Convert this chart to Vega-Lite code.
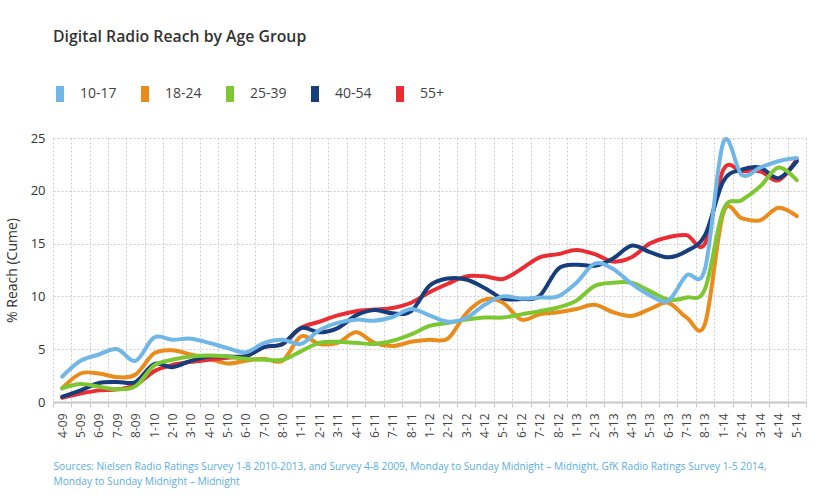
{
  "$schema": "https://vega.github.io/schema/vega-lite/v6.json",
  "width": 753,
  "height": 264,
  "autosize": {"type": "none"},
  "padding": {"left": 53, "top": 138, "right": 28, "bottom": 100},
  "background": "white",
  "title": {
    "text": "Digital Radio Reach by Age Group",
    "anchor": "start",
    "frame": "group",
    "font": "Open Sans",
    "fontSize": 15.8,
    "fontWeight": 600,
    "color": "#333333",
    "offset": 36
  },
  "data": {
    "values": [
      {"month": "4-09", "group": "18-24", "reach": 1.3}, {"month": "5-09", "group": "18-24", "reach": 2.7}, {"month": "6-09", "group": "18-24", "reach": 2.7}, {"month": "7-09", "group": "18-24", "reach": 2.35}, {"month": "8-09", "group": "18-24", "reach": 2.6}, {"month": "1-10", "group": "18-24", "reach": 4.6}, {"month": "2-10", "group": "18-24", "reach": 4.9}, {"month": "3-10", "group": "18-24", "reach": 4.5}, {"month": "4-10", "group": "18-24", "reach": 4.1}, {"month": "5-10", "group": "18-24", "reach": 3.65}, {"month": "6-10", "group": "18-24", "reach": 3.9}, {"month": "7-10", "group": "18-24", "reach": 4.1}, {"month": "8-10", "group": "18-24", "reach": 3.9}, {"month": "1-11", "group": "18-24", "reach": 6.2}, {"month": "2-11", "group": "18-24", "reach": 5.5}, {"month": "3-11", "group": "18-24", "reach": 5.6}, {"month": "4-11", "group": "18-24", "reach": 6.6}, {"month": "6-11", "group": "18-24", "reach": 5.6}, {"month": "7-11", "group": "18-24", "reach": 5.3}, {"month": "8-11", "group": "18-24", "reach": 5.7}, {"month": "1-12", "group": "18-24", "reach": 5.9}, {"month": "2-12", "group": "18-24", "reach": 6.0}, {"month": "3-12", "group": "18-24", "reach": 8.4}, {"month": "4-12", "group": "18-24", "reach": 9.7}, {"month": "5-12", "group": "18-24", "reach": 9.4}, {"month": "6-12", "group": "18-24", "reach": 7.8}, {"month": "7-12", "group": "18-24", "reach": 8.3}, {"month": "8-12", "group": "18-24", "reach": 8.5}, {"month": "1-13", "group": "18-24", "reach": 8.8}, {"month": "2-13", "group": "18-24", "reach": 9.2}, {"month": "3-13", "group": "18-24", "reach": 8.5}, {"month": "4-13", "group": "18-24", "reach": 8.15}, {"month": "5-13", "group": "18-24", "reach": 8.8}, {"month": "6-13", "group": "18-24", "reach": 9.4}, {"month": "7-13", "group": "18-24", "reach": 8.0}, {"month": "8-13", "group": "18-24", "reach": 7.4}, {"month": "1-14", "group": "18-24", "reach": 17.9}, {"month": "2-14", "group": "18-24", "reach": 17.4}, {"month": "3-14", "group": "18-24", "reach": 17.2}, {"month": "4-14", "group": "18-24", "reach": 18.4}, {"month": "5-14", "group": "18-24", "reach": 17.6},
      {"month": "4-09", "group": "55+", "reach": 0.4}, {"month": "5-09", "group": "55+", "reach": 0.8}, {"month": "6-09", "group": "55+", "reach": 1.1}, {"month": "7-09", "group": "55+", "reach": 1.2}, {"month": "8-09", "group": "55+", "reach": 1.6}, {"month": "1-10", "group": "55+", "reach": 2.9}, {"month": "2-10", "group": "55+", "reach": 3.5}, {"month": "3-10", "group": "55+", "reach": 3.8}, {"month": "4-10", "group": "55+", "reach": 4.0}, {"month": "5-10", "group": "55+", "reach": 4.2}, {"month": "6-10", "group": "55+", "reach": 4.35}, {"month": "7-10", "group": "55+", "reach": 5.2}, {"month": "8-10", "group": "55+", "reach": 5.5}, {"month": "1-11", "group": "55+", "reach": 7.0}, {"month": "2-11", "group": "55+", "reach": 7.6}, {"month": "3-11", "group": "55+", "reach": 8.2}, {"month": "4-11", "group": "55+", "reach": 8.6}, {"month": "6-11", "group": "55+", "reach": 8.75}, {"month": "7-11", "group": "55+", "reach": 8.9}, {"month": "8-11", "group": "55+", "reach": 9.4}, {"month": "1-12", "group": "55+", "reach": 10.4}, {"month": "2-12", "group": "55+", "reach": 11.2}, {"month": "3-12", "group": "55+", "reach": 11.9}, {"month": "4-12", "group": "55+", "reach": 11.9}, {"month": "5-12", "group": "55+", "reach": 11.65}, {"month": "6-12", "group": "55+", "reach": 12.6}, {"month": "7-12", "group": "55+", "reach": 13.7}, {"month": "8-12", "group": "55+", "reach": 14.0}, {"month": "1-13", "group": "55+", "reach": 14.4}, {"month": "2-13", "group": "55+", "reach": 14.0}, {"month": "3-13", "group": "55+", "reach": 13.3}, {"month": "4-13", "group": "55+", "reach": 13.7}, {"month": "5-13", "group": "55+", "reach": 15.0}, {"month": "6-13", "group": "55+", "reach": 15.6}, {"month": "7-13", "group": "55+", "reach": 15.8}, {"month": "8-13", "group": "55+", "reach": 15.0}, {"month": "1-14", "group": "55+", "reach": 22.0}, {"month": "2-14", "group": "55+", "reach": 21.85}, {"month": "3-14", "group": "55+", "reach": 21.85}, {"month": "4-14", "group": "55+", "reach": 21.0}, {"month": "5-14", "group": "55+", "reach": 23.0},
      {"month": "4-09", "group": "40-54", "reach": 0.5}, {"month": "5-09", "group": "40-54", "reach": 1.1}, {"month": "6-09", "group": "40-54", "reach": 1.8}, {"month": "7-09", "group": "40-54", "reach": 1.9}, {"month": "8-09", "group": "40-54", "reach": 1.9}, {"month": "1-10", "group": "40-54", "reach": 3.6}, {"month": "2-10", "group": "40-54", "reach": 3.3}, {"month": "3-10", "group": "40-54", "reach": 3.9}, {"month": "4-10", "group": "40-54", "reach": 4.3}, {"month": "5-10", "group": "40-54", "reach": 4.3}, {"month": "6-10", "group": "40-54", "reach": 4.35}, {"month": "7-10", "group": "40-54", "reach": 5.2}, {"month": "8-10", "group": "40-54", "reach": 5.5}, {"month": "1-11", "group": "40-54", "reach": 7.0}, {"month": "2-11", "group": "40-54", "reach": 6.6}, {"month": "3-11", "group": "40-54", "reach": 7.0}, {"month": "4-11", "group": "40-54", "reach": 8.2}, {"month": "6-11", "group": "40-54", "reach": 8.7}, {"month": "7-11", "group": "40-54", "reach": 8.4}, {"month": "8-11", "group": "40-54", "reach": 8.6}, {"month": "1-12", "group": "40-54", "reach": 11.0}, {"month": "2-12", "group": "40-54", "reach": 11.7}, {"month": "3-12", "group": "40-54", "reach": 11.6}, {"month": "4-12", "group": "40-54", "reach": 10.8}, {"month": "5-12", "group": "40-54", "reach": 9.8}, {"month": "6-12", "group": "40-54", "reach": 9.75}, {"month": "7-12", "group": "40-54", "reach": 10.05}, {"month": "8-12", "group": "40-54", "reach": 12.6}, {"month": "1-13", "group": "40-54", "reach": 13.0}, {"month": "2-13", "group": "40-54", "reach": 12.9}, {"month": "3-13", "group": "40-54", "reach": 13.6}, {"month": "4-13", "group": "40-54", "reach": 14.8}, {"month": "5-13", "group": "40-54", "reach": 14.2}, {"month": "6-13", "group": "40-54", "reach": 13.7}, {"month": "7-13", "group": "40-54", "reach": 14.3}, {"month": "8-13", "group": "40-54", "reach": 15.8}, {"month": "1-14", "group": "40-54", "reach": 20.9}, {"month": "2-14", "group": "40-54", "reach": 22.0}, {"month": "3-14", "group": "40-54", "reach": 22.2}, {"month": "4-14", "group": "40-54", "reach": 21.2}, {"month": "5-14", "group": "40-54", "reach": 22.8},
      {"month": "4-09", "group": "25-39", "reach": 1.3}, {"month": "5-09", "group": "25-39", "reach": 1.7}, {"month": "6-09", "group": "25-39", "reach": 1.45}, {"month": "7-09", "group": "25-39", "reach": 1.2}, {"month": "8-09", "group": "25-39", "reach": 1.5}, {"month": "1-10", "group": "25-39", "reach": 3.45}, {"month": "2-10", "group": "25-39", "reach": 4.0}, {"month": "3-10", "group": "25-39", "reach": 4.3}, {"month": "4-10", "group": "25-39", "reach": 4.4}, {"month": "5-10", "group": "25-39", "reach": 4.3}, {"month": "6-10", "group": "25-39", "reach": 4.1}, {"month": "7-10", "group": "25-39", "reach": 4.0}, {"month": "8-10", "group": "25-39", "reach": 4.0}, {"month": "1-11", "group": "25-39", "reach": 4.8}, {"month": "2-11", "group": "25-39", "reach": 5.6}, {"month": "3-11", "group": "25-39", "reach": 5.7}, {"month": "4-11", "group": "25-39", "reach": 5.6}, {"month": "6-11", "group": "25-39", "reach": 5.5}, {"month": "7-11", "group": "25-39", "reach": 5.8}, {"month": "8-11", "group": "25-39", "reach": 6.4}, {"month": "1-12", "group": "25-39", "reach": 7.2}, {"month": "2-12", "group": "25-39", "reach": 7.5}, {"month": "3-12", "group": "25-39", "reach": 7.8}, {"month": "4-12", "group": "25-39", "reach": 8.0}, {"month": "5-12", "group": "25-39", "reach": 8.0}, {"month": "6-12", "group": "25-39", "reach": 8.3}, {"month": "7-12", "group": "25-39", "reach": 8.6}, {"month": "8-12", "group": "25-39", "reach": 8.95}, {"month": "1-13", "group": "25-39", "reach": 9.6}, {"month": "2-13", "group": "25-39", "reach": 11.0}, {"month": "3-13", "group": "25-39", "reach": 11.3}, {"month": "4-13", "group": "25-39", "reach": 11.3}, {"month": "5-13", "group": "25-39", "reach": 10.5}, {"month": "6-13", "group": "25-39", "reach": 9.7}, {"month": "7-13", "group": "25-39", "reach": 9.9}, {"month": "8-13", "group": "25-39", "reach": 10.7}, {"month": "1-14", "group": "25-39", "reach": 18.2}, {"month": "2-14", "group": "25-39", "reach": 19.1}, {"month": "3-14", "group": "25-39", "reach": 20.4}, {"month": "4-14", "group": "25-39", "reach": 22.2}, {"month": "5-14", "group": "25-39", "reach": 21.0},
      {"month": "4-09", "group": "10-17", "reach": 2.4}, {"month": "5-09", "group": "10-17", "reach": 3.9}, {"month": "6-09", "group": "10-17", "reach": 4.5}, {"month": "7-09", "group": "10-17", "reach": 5.0}, {"month": "8-09", "group": "10-17", "reach": 3.9}, {"month": "1-10", "group": "10-17", "reach": 6.1}, {"month": "2-10", "group": "10-17", "reach": 5.9}, {"month": "3-10", "group": "10-17", "reach": 6.0}, {"month": "4-10", "group": "10-17", "reach": 5.6}, {"month": "5-10", "group": "10-17", "reach": 5.1}, {"month": "6-10", "group": "10-17", "reach": 4.7}, {"month": "7-10", "group": "10-17", "reach": 5.6}, {"month": "8-10", "group": "10-17", "reach": 5.9}, {"month": "1-11", "group": "10-17", "reach": 5.5}, {"month": "2-11", "group": "10-17", "reach": 6.8}, {"month": "3-11", "group": "10-17", "reach": 7.5}, {"month": "4-11", "group": "10-17", "reach": 7.8}, {"month": "6-11", "group": "10-17", "reach": 7.7}, {"month": "7-11", "group": "10-17", "reach": 8.05}, {"month": "8-11", "group": "10-17", "reach": 8.8}, {"month": "1-12", "group": "10-17", "reach": 8.2}, {"month": "2-12", "group": "10-17", "reach": 7.6}, {"month": "3-12", "group": "10-17", "reach": 7.95}, {"month": "4-12", "group": "10-17", "reach": 9.2}, {"month": "5-12", "group": "10-17", "reach": 10.0}, {"month": "6-12", "group": "10-17", "reach": 9.8}, {"month": "7-12", "group": "10-17", "reach": 9.9}, {"month": "8-12", "group": "10-17", "reach": 10.0}, {"month": "1-13", "group": "10-17", "reach": 11.3}, {"month": "2-13", "group": "10-17", "reach": 13.1}, {"month": "3-13", "group": "10-17", "reach": 12.6}, {"month": "4-13", "group": "10-17", "reach": 11.2}, {"month": "5-13", "group": "10-17", "reach": 10.1}, {"month": "6-13", "group": "10-17", "reach": 9.6}, {"month": "7-13", "group": "10-17", "reach": 12.0}, {"month": "8-13", "group": "10-17", "reach": 12.6}, {"month": "1-14", "group": "10-17", "reach": 24.6}, {"month": "2-14", "group": "10-17", "reach": 21.5}, {"month": "3-14", "group": "10-17", "reach": 22.2}, {"month": "4-14", "group": "10-17", "reach": 22.8}, {"month": "5-14", "group": "10-17", "reach": 23.1}
    ]
  },
  "mark": {"type": "line", "interpolate": "cardinal", "strokeWidth": 4, "strokeCap": "round"},
  "encoding": {
    "x": {
      "field": "month",
      "type": "ordinal",
      "sort": null,
      "bandPosition": 0.5,
      "scale": {"type": "band", "paddingInner": 0, "paddingOuter": 0},
      "axis": {
        "title": ["Sources: Nielsen Radio Ratings Survey 1-8 2010-2013, and Survey 4-8 2009, Monday to Sunday Midnight – Midnight, GfK Radio Ratings Survey 1-5 2014,", "Monday to Sunday Midnight – Midnight"],
        "titleFont": "Open Sans",
        "titleFontSize": 10.2,
        "titleFontWeight": "normal",
        "titleColor": "#5aaee3",
        "titleAnchor": "start",
        "titleAlign": "left",
        "titleBaseline": "top",
        "titleX": 0,
        "titleY": 59,
        "titleLineHeight": 15,
        "labelAngle": -90,
        "labelFont": "Open Sans",
        "labelFontSize": 12,
        "labelColor": "#444444",
        "labelPadding": 6,
        "tickBand": "extent",
        "tickColor": "#cccccc",
        "tickSize": 5,
        "domainColor": "#c8c8c8",
        "domainWidth": 2,
        "grid": true,
        "gridColor": "#cccccc",
        "gridDash": [2, 2],
        "gridWidth": 1
      }
    },
    "y": {
      "field": "reach",
      "type": "quantitative",
      "scale": {"domain": [0, 25], "nice": false},
      "axis": {
        "title": "% Reach (Cume)",
        "titleFont": "Open Sans",
        "titleFontSize": 14,
        "titleFontWeight": "normal",
        "titleColor": "#333333",
        "titlePadding": 11,
        "values": [0, 5, 10, 15, 20, 25],
        "labelFont": "Open Sans",
        "labelFontSize": 13,
        "labelColor": "#333333",
        "labelPadding": 8,
        "ticks": false,
        "domain": false,
        "gridColor": "#cccccc",
        "gridDash": [2, 2],
        "gridWidth": 1
      }
    },
    "color": {
      "field": "group",
      "type": "nominal",
      "scale": {
        "domain": ["10-17", "18-24", "25-39", "40-54", "55+"],
        "range": ["#70b6e6", "#ea8c1b", "#7dc832", "#173e7c", "#ea2c33"]
      },
      "legend": {
        "title": null,
        "orient": "none",
        "legendX": -5,
        "legendY": -56,
        "direction": "horizontal",
        "columns": 5,
        "gridAlign": "all",
        "columnPadding": 12,
        "padding": 0,
        "symbolType": "M0,-1L0,1",
        "symbolSize": 256,
        "symbolStrokeWidth": 8,
        "labelFont": "Open Sans",
        "labelFontSize": 14,
        "labelColor": "#444444",
        "labelOffset": 8
      }
    }
  },
  "config": {"view": {"stroke": null}}
}
